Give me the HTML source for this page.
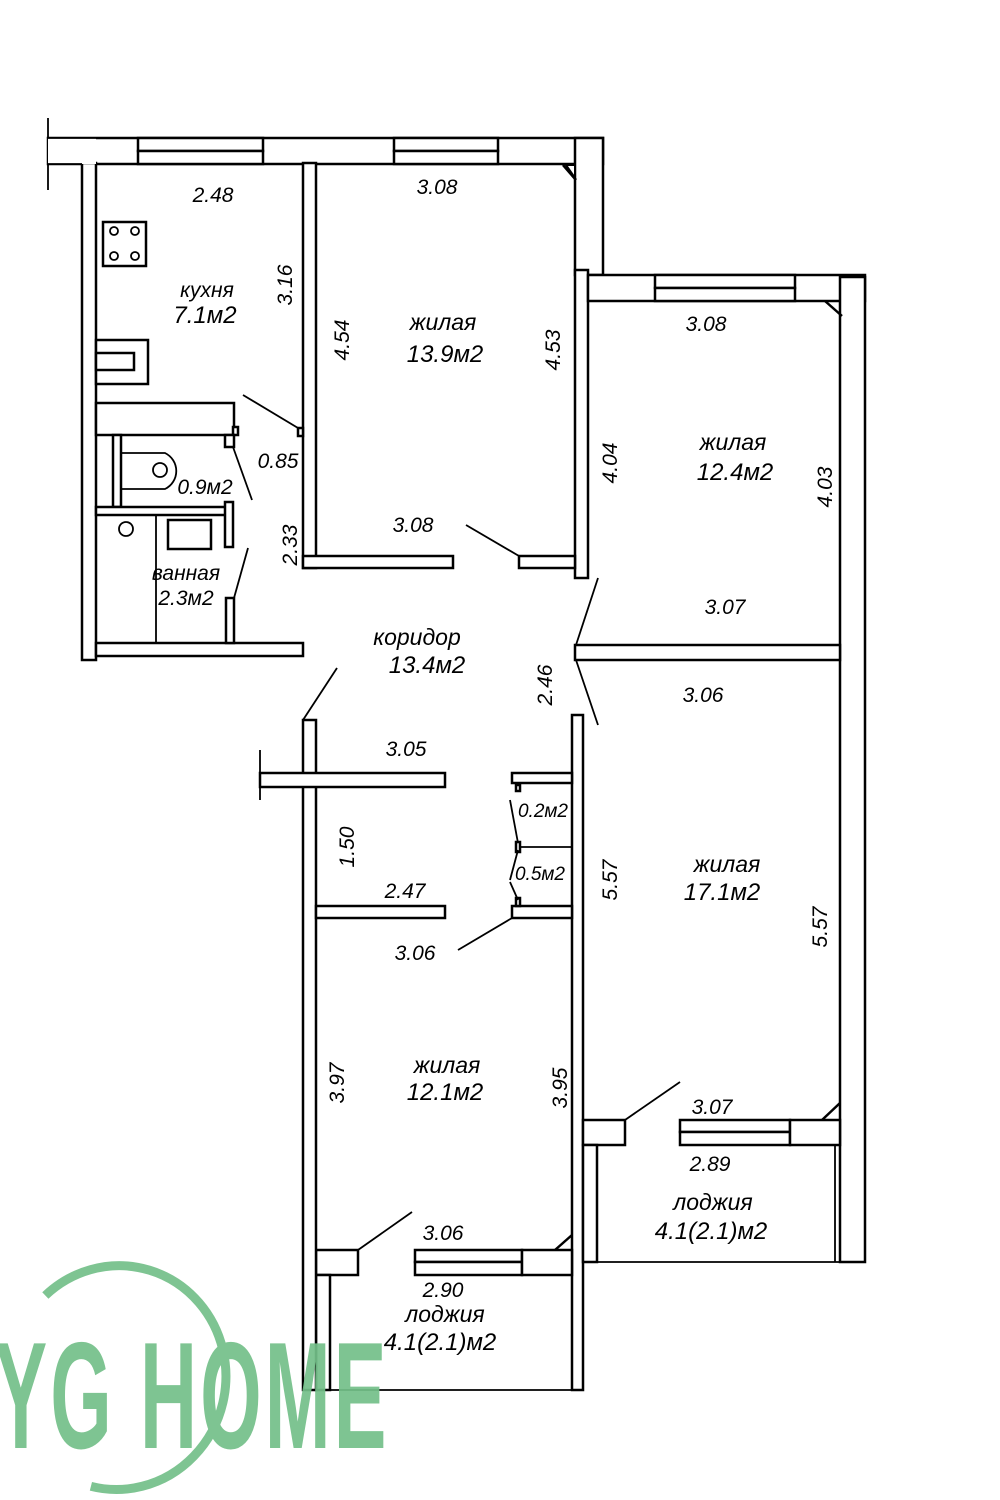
<!DOCTYPE html>
<html><head><meta charset="utf-8"><style>
html,body{margin:0;padding:0;background:#fff}
svg{display:block}
.w{fill:#fff;stroke:#000;stroke-width:2.5}
.l{stroke:#000;stroke-width:1.8;fill:none}
text{font-family:"Liberation Sans",sans-serif;font-style:italic;font-size:21px;fill:#000;text-anchor:middle}
</style></head><body>
<svg width="1000" height="1500" viewBox="0 0 1000 1500" xmlns="http://www.w3.org/2000/svg">
<!-- left stub -->
<line class="l" x1="48" y1="118" x2="48" y2="190"/>
<!-- top wall -->
<rect class="w" x="48" y="138" width="555" height="26"/>
<rect class="w" x="138" y="138" width="125" height="13"/><rect class="w" x="138" y="151" width="125" height="13"/>
<rect class="w" x="394" y="138" width="104" height="13"/><rect class="w" x="394" y="151" width="104" height="13"/>
<!-- wall between 13.9 & 12.4 -->
<rect class="w" x="575" y="138" width="28" height="137"/>
<rect class="w" x="575" y="270" width="13" height="308"/>
<polygon points="566,165 575,165 575,178" fill="#fff" stroke="#000" stroke-width="2"/>
<line x1="563" y1="165" x2="576" y2="180" stroke="#000" stroke-width="2.5"/>
<!-- top of 12.4 -->
<rect class="w" x="588" y="275" width="277" height="26"/>
<rect class="w" x="655" y="275" width="140" height="13"/><rect class="w" x="655" y="288" width="140" height="13"/>
<!-- right exterior -->
<rect class="w" x="840" y="277" width="25" height="985"/>
<line x1="825" y1="301" x2="842" y2="316" stroke="#000" stroke-width="2.5"/>
<!-- partition 12.4 / 17.1 -->
<rect class="w" x="575" y="645" width="265" height="15"/>
<!-- 17.1 left / 12.1 right column -->
<rect class="w" x="572" y="715" width="11" height="675"/>
<!-- 17.1 bottom -->
<rect class="w" x="583" y="1120" width="42" height="25"/>
<rect class="w" x="583" y="1145" width="14" height="117"/>
<rect class="w" x="680" y="1120" width="110" height="12"/><rect class="w" x="680" y="1132" width="110" height="13"/>
<rect class="w" x="790" y="1120" width="50" height="25"/>
<line x1="822" y1="1120" x2="840" y2="1103" stroke="#000" stroke-width="2.5"/>
<line class="l" x1="597" y1="1262" x2="850" y2="1262"/>
<line class="l" x1="835" y1="1145" x2="835" y2="1262"/>
<!-- 12.1 bottom -->
<rect class="w" x="316" y="1250" width="42" height="25"/>
<rect class="w" x="316" y="1275" width="14" height="115"/>
<rect class="w" x="415" y="1250" width="107" height="12"/><rect class="w" x="415" y="1262" width="107" height="13"/>
<rect class="w" x="522" y="1250" width="50" height="25"/>
<line x1="555" y1="1250" x2="572" y2="1235" stroke="#000" stroke-width="2.5"/>
<!-- left lower wall -->
<rect class="w" x="303" y="720" width="13" height="670"/>
<line class="l" x1="303" y1="1390" x2="583" y2="1390"/>
<!-- closet walls -->
<rect class="w" x="260" y="773" width="185" height="14"/>
<line class="l" x1="260" y1="750" x2="260" y2="800"/>
<rect class="w" x="316" y="906" width="129" height="12"/>
<rect class="w" x="512" y="906" width="60" height="12"/>
<rect class="w" x="512" y="773" width="60" height="10"/>
<line class="l" x1="518" y1="847" x2="572" y2="847"/>
<rect class="w" x="516" y="785" width="4" height="6"/><rect class="w" x="516" y="842" width="4" height="10"/><rect class="w" x="516" y="898" width="4" height="8"/>
<line class="l" x1="510" y1="800" x2="518" y2="843"/><line class="l" x1="518" y1="850" x2="510" y2="880"/>
<line class="l" x1="510" y1="882" x2="518" y2="900"/>
<!-- 13.9 room -->
<rect class="w" x="303" y="163" width="13" height="405"/>
<rect class="w" x="303" y="556" width="150" height="12"/>
<rect class="w" x="519" y="556" width="56" height="12"/>
<!-- kitchen -->
<rect class="w" x="82" y="163" width="14" height="497"/>
<rect class="w" x="48" y="138" width="48" height="26" style="stroke:none"/>
<line class="l" x1="48" y1="138" x2="96" y2="138"/><line class="l" x1="48" y1="164" x2="82" y2="164"/>
<rect class="w" x="96" y="643" width="207" height="13"/>
<rect class="w" x="103" y="222" width="43" height="44"/>
<circle cx="114" cy="231" r="4" class="l"/><circle cx="135" cy="231" r="4" class="l"/>
<circle cx="114" cy="256" r="4" class="l"/><circle cx="135" cy="256" r="4" class="l"/>
<rect class="w" x="96" y="340" width="52" height="44"/>
<rect class="w" x="96" y="353" width="38" height="17"/>
<!-- bathroom -->
<rect class="w" x="96" y="403" width="138" height="32"/>
<rect class="w" x="233" y="427" width="5" height="8"/>
<rect class="w" x="225" y="435" width="9" height="12"/>
<rect class="w" x="298" y="428" width="5" height="8"/>
<line class="l" x1="243" y1="395" x2="298" y2="428"/>
<line class="l" x1="233" y1="447" x2="252" y2="500"/>
<rect class="w" x="113" y="435" width="8" height="72"/>
<path d="M121,453 H165 A20,20 0 0 1 165,489 H121 Z" class="l" stroke-width="2.5"/>
<circle cx="160" cy="470" r="7" class="l" stroke-width="2.5"/>
<rect class="w" x="96" y="507" width="130" height="8"/>
<rect class="w" x="225" y="502" width="8" height="45"/>
<line class="l" x1="156" y1="515" x2="156" y2="643"/>
<circle cx="126" cy="529" r="7" class="l" stroke-width="2.5"/>
<rect class="w" x="168" y="520" width="43" height="29"/>
<line class="l" x1="168" y1="520" x2="211" y2="520" stroke-width="3"/>
<rect class="w" x="226" y="598" width="8" height="45"/>
<line class="l" x1="234" y1="598" x2="248" y2="548"/>
<!-- door swings -->
<line class="l" x1="466" y1="525" x2="519" y2="556"/>
<line class="l" x1="598" y1="578" x2="576" y2="645"/>
<line class="l" x1="576" y1="660" x2="598" y2="725"/>
<line class="l" x1="303" y1="720" x2="337" y2="668"/>
<line class="l" x1="458" y1="950" x2="512" y2="918"/>
<line class="l" x1="625" y1="1120" x2="680" y2="1082"/>
<line class="l" x1="358" y1="1250" x2="412" y2="1212"/>
<!-- labels -->
<text x="213" y="202">2.48</text>
<text x="207" y="297">кухня</text><text x="205" y="323" style="font-size:24px">7.1м2</text>
<text transform="translate(292,285) rotate(-90)">3.16</text>
<text x="437" y="194">3.08</text>
<text x="443" y="330" style="font-size:23px">жилая</text><text x="445" y="362" style="font-size:24px">13.9м2</text>
<text transform="translate(349,340) rotate(-90)">4.54</text>
<text transform="translate(560,350) rotate(-90)">4.53</text>
<text x="413" y="532">3.08</text>
<text x="278" y="468">0.85</text>
<text x="205" y="494">0.9м2</text>
<text transform="translate(297,545) rotate(-90)">2.33</text>
<text x="186" y="580">ванная</text><text x="186" y="605">2.3м2</text>
<text x="417" y="645" style="font-size:23px">коридор</text><text x="427" y="673" style="font-size:24px">13.4м2</text>
<text transform="translate(552,685) rotate(-90)">2.46</text>
<text x="706" y="331">3.08</text>
<text x="733" y="450" style="font-size:23px">жилая</text><text x="735" y="480" style="font-size:24px">12.4м2</text>
<text transform="translate(617,463) rotate(-90)">4.04</text>
<text transform="translate(832,487) rotate(-90)">4.03</text>
<text x="725" y="614">3.07</text>
<text x="703" y="702">3.06</text>
<text x="406" y="756">3.05</text>
<text transform="translate(354,847) rotate(-90)">1.50</text>
<text x="405" y="898">2.47</text>
<text x="543" y="817" style="font-size:19px">0.2м2</text>
<text x="540" y="880" style="font-size:19px">0.5м2</text>
<text transform="translate(617,880) rotate(-90)">5.57</text>
<text x="727" y="872" style="font-size:23px">жилая</text><text x="722" y="900" style="font-size:24px">17.1м2</text>
<text transform="translate(827,927) rotate(-90)">5.57</text>
<text x="415" y="960">3.06</text>
<text x="447" y="1073" style="font-size:23px">жилая</text><text x="445" y="1100" style="font-size:24px">12.1м2</text>
<text transform="translate(344,1083) rotate(-90)">3.97</text>
<text transform="translate(567,1088) rotate(-90)">3.95</text>
<text x="712" y="1114">3.07</text>
<text x="710" y="1171">2.89</text>
<text x="713" y="1210" style="font-size:23px">лоджия</text><text x="711" y="1239" style="font-size:24px">4.1(2.1)м2</text>
<text x="443" y="1240">3.06</text>
<text x="443" y="1297">2.90</text>
<text x="445" y="1322" style="font-size:23px">лоджия</text><text x="440" y="1350" style="font-size:24px">4.1(2.1)м2</text>
<!-- logo -->
<g opacity="0.92">
<path d="M32,1312 A108,112 0 1 1 110,1492" fill="none" stroke="#74c089" stroke-width="9" transform="rotate(10 133 1380)"/>
<text x="192" y="1448" transform="translate(192 0) scale(0.52 1) translate(-192 0)" style="font-style:normal;font-weight:bold;font-size:152px;fill:#74c089;text-anchor:middle;letter-spacing:6px">YG HOME</text>
</g>
</svg>
</body></html>
